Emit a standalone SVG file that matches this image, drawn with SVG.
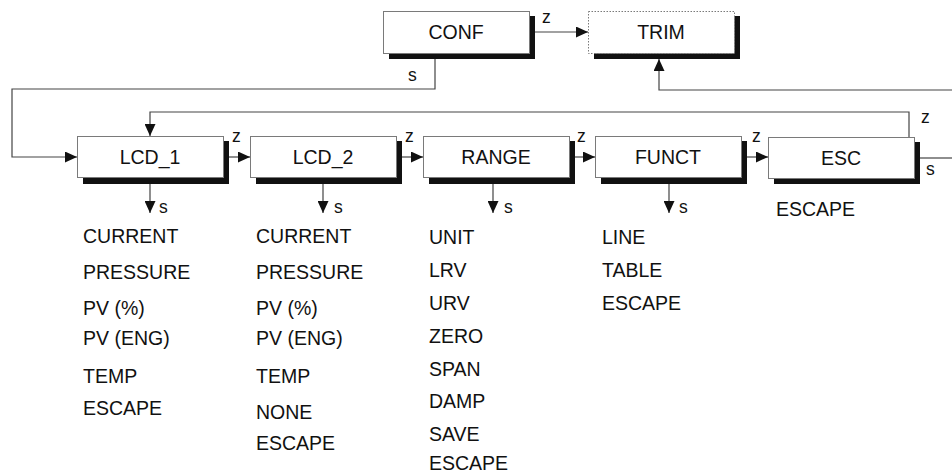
<svg xmlns="http://www.w3.org/2000/svg" width="952" height="475" viewBox="0 0 952 475">
<style>
  .box { fill: #ffffff; stroke: #7a7a7a; stroke-width: 1; }
  .dotted { stroke-dasharray: 1.5 1.5; }
  .shadow { fill: #111111; }
  .lbl { font-family: "Liberation Sans", Arial, sans-serif; font-size: 19.5px; fill: #111111; }
  .ctr { text-anchor: middle; }
  .sm { font-family: "Liberation Sans", Arial, sans-serif; font-size: 17.5px; fill: #111111; }
  .conn { fill: none; stroke: #444444; stroke-width: 1.2; }
</style>
<defs>
  <marker id="ah" markerUnits="userSpaceOnUse" markerWidth="12" markerHeight="11" refX="12" refY="5.5" orient="auto">
    <path d="M0,0 L12,5.5 L0,11 z" fill="#111111"/>
  </marker>
</defs>
<rect width="952" height="475" fill="#ffffff"/>

<g id="conf">
  <rect class="shadow" x="389" y="16" width="146" height="43"/>
  <rect class="box" x="383.5" y="11.5" width="146" height="42"/>
  <text class="lbl ctr" x="456" y="39">CONF</text>
</g>
<g id="trim">
  <rect class="shadow" x="594" y="16" width="146" height="43"/>
  <rect class="box dotted" x="588.5" y="11.5" width="146" height="42"/>
  <text class="lbl ctr" x="661" y="39">TRIM</text>
</g>
<g id="lcd1">
  <rect class="shadow" x="83" y="141" width="146" height="43"/>
  <rect class="box" x="77.5" y="136.5" width="146" height="41"/>
  <text class="lbl ctr" x="150" y="164">LCD_1</text>
</g>
<g id="lcd2">
  <rect class="shadow" x="256" y="141" width="146" height="43"/>
  <rect class="box" x="250.5" y="136.5" width="146" height="41"/>
  <text class="lbl ctr" x="323" y="164">LCD_2</text>
</g>
<g id="range">
  <rect class="shadow" x="429" y="141" width="146" height="43"/>
  <rect class="box" x="423.5" y="136.5" width="146" height="41"/>
  <text class="lbl ctr" x="496" y="164">RANGE</text>
</g>
<g id="funct">
  <rect class="shadow" x="601" y="141" width="146" height="43"/>
  <rect class="box" x="595.5" y="136.5" width="146" height="41"/>
  <text class="lbl ctr" x="668" y="164">FUNCT</text>
</g>
<g id="esc">
  <rect class="shadow" x="774" y="142" width="146" height="42"/>
  <rect class="box" x="768.5" y="137.5" width="146" height="41"/>
  <text class="lbl ctr" x="841" y="165">ESC</text>
</g>

<g id="connectors">
  <path class="conn" d="M535,32 H588" marker-end="url(#ah)"/>
  <path class="conn" d="M435,59 V89 H12 V157 H77" marker-end="url(#ah)"/>
  <path class="conn" d="M952,90 H659 V59" marker-end="url(#ah)"/>
  <path class="conn" d="M920,158 H952"/>
  <path class="conn" d="M909,137 V112 H150 V136" marker-end="url(#ah)"/>
  <path class="conn" d="M229,157 H250" marker-end="url(#ah)"/>
  <path class="conn" d="M402,157 H423" marker-end="url(#ah)"/>
  <path class="conn" d="M575,157 H595" marker-end="url(#ah)"/>
  <path class="conn" d="M747,157 H768" marker-end="url(#ah)"/>
  <path class="conn" d="M150,184 V213" marker-end="url(#ah)"/>
  <path class="conn" d="M323,184 V213" marker-end="url(#ah)"/>
  <path class="conn" d="M493,184 V213" marker-end="url(#ah)"/>
  <path class="conn" d="M669,184 V213" marker-end="url(#ah)"/>
</g>

<g id="edge-labels">
  <text class="sm" x="542" y="23">z</text>
  <text class="sm" x="408" y="81">s</text>
  <text class="sm" x="232" y="142">z</text>
  <text class="sm" x="405" y="142">z</text>
  <text class="sm" x="577" y="142">z</text>
  <text class="sm" x="752" y="142">z</text>
  <text class="sm" x="921" y="123">z</text>
  <text class="sm" x="926" y="175">s</text>
  <text class="sm" x="159" y="213">s</text>
  <text class="sm" x="334" y="213">s</text>
  <text class="sm" x="504" y="213">s</text>
  <text class="sm" x="679" y="213">s</text>
</g>

<g id="lcd1-items">
  <text class="lbl" x="83" y="243">CURRENT</text>
  <text class="lbl" x="83" y="279">PRESSURE</text>
  <text class="lbl" x="83" y="315">PV (%)</text>
  <text class="lbl" x="83" y="345">PV (ENG)</text>
  <text class="lbl" x="83" y="383">TEMP</text>
  <text class="lbl" x="83" y="415">ESCAPE</text>
</g>
<g id="lcd2-items">
  <text class="lbl" x="256" y="243">CURRENT</text>
  <text class="lbl" x="256" y="279">PRESSURE</text>
  <text class="lbl" x="256" y="315">PV (%)</text>
  <text class="lbl" x="256" y="345">PV (ENG)</text>
  <text class="lbl" x="256" y="383">TEMP</text>
  <text class="lbl" x="256" y="419">NONE</text>
  <text class="lbl" x="256" y="450">ESCAPE</text>
</g>
<g id="range-items">
  <text class="lbl" x="429" y="244">UNIT</text>
  <text class="lbl" x="429" y="277">LRV</text>
  <text class="lbl" x="429" y="310">URV</text>
  <text class="lbl" x="429" y="343">ZERO</text>
  <text class="lbl" x="429" y="376">SPAN</text>
  <text class="lbl" x="429" y="408">DAMP</text>
  <text class="lbl" x="429" y="441">SAVE</text>
  <text class="lbl" x="429" y="470">ESCAPE</text>
</g>
<g id="funct-items">
  <text class="lbl" x="602" y="244">LINE</text>
  <text class="lbl" x="602" y="277">TABLE</text>
  <text class="lbl" x="602" y="310">ESCAPE</text>
</g>
<g id="esc-items">
  <text class="lbl" x="776" y="216">ESCAPE</text>
</g>
</svg>
